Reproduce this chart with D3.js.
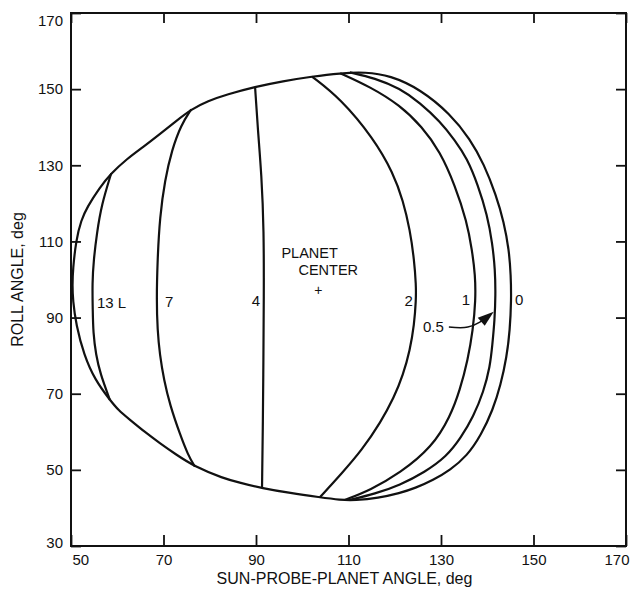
<!DOCTYPE html>
<html>
<head>
  <meta charset="utf-8">
  <title>Roll angle vs sun-probe-planet angle</title>
  <script src="https://d3js.org/d3.v7.min.js"></script>
  <style>
    body { margin: 0; background: #fff; }
    text { font-family: "Liberation Sans", Arial, sans-serif; fill: #111; }
  </style>
</head>
<body>
  <svg id="chart"></svg>

  <script>
    // tick values
    const xTicks = [50, 70, 90, 110, 130, 150, 170];
    const yTicks = [30, 50, 70, 90, 110, 130, 150, 170];

    // outer boundary (curve "0" on the right side): [sun-probe-planet angle, roll angle]
    const outline = [
      [58.4, 68.4], [55.2, 73.6], [52.8, 80.2], [51.1, 88.1], [50.4, 94.6], [50.3, 98.6],
      [50.4, 102.5], [51.1, 110.4], [52.2, 115.6], [53.5, 119.0], [56.1, 124.0], [58.7, 127.9],
      [62.1, 131.7], [65.6, 134.8], [69.2, 138.2], [72.7, 141.6], [76.0, 144.7], [79.6, 146.9],
      [83.7, 148.6], [89.8, 150.6], [95.8, 152.1], [102.1, 153.3], [108.2, 154.2], [113.6, 154.5],
      [119.0, 153.6], [125.5, 150.0], [132.0, 143.5], [136.3, 136.9], [139.3, 130.3], [141.9, 122.2],
      [143.6, 115.1], [144.7, 107.8], [145.1, 101.2], [145.2, 94.6], [144.9, 86.7], [144.2, 79.6],
      [142.9, 72.3], [141.2, 65.7], [138.7, 59.2], [135.6, 53.6], [132.0, 50.0], [128.3, 47.3],
      [124.4, 45.2], [121.1, 43.9], [116.4, 42.6], [111.4, 42.0], [108.2, 42.1], [103.8, 42.8],
      [97.4, 43.9], [91.3, 45.2], [86.5, 46.6], [82.9, 47.8], [76.8, 50.8], [72.5, 54.2],
      [69.2, 57.0], [66.0, 59.9], [62.8, 63.1], [60.2, 65.7]
    ];

    // contours inside the boundary
    const line13L = [[58.7, 127.9], [56.6, 119.6], [55.6, 112.2], [54.9, 105.1], [54.6, 99.1], [54.7, 92.0], [54.8, 86.0], [55.4, 80.2], [56.3, 75.4], [58.4, 68.4]];
    const line7 = [[76.0, 144.7], [73.8, 140.6], [71.8, 134.0], [70.3, 126.1], [69.2, 116.4], [68.7, 105.1], [68.5, 94.6], [68.7, 86.7], [69.2, 80.2], [70.1, 73.6], [71.4, 67.0], [73.6, 59.2], [75.3, 53.9], [76.8, 50.8]];
    const line4 = [[89.8, 150.6], [90.4, 139.3], [91.2, 127.5], [91.7, 113.0], [91.7, 95.4], [91.6, 78.9], [91.5, 63.1], [91.3, 45.2]];
    const line2 = [[102.1, 153.3], [108.2, 147.6], [115.4, 137.1], [119.7, 127.9], [121.8, 120.7], [123.3, 113.0], [124.2, 105.1], [124.6, 98.6], [124.6, 94.6], [124.2, 88.1], [123.3, 81.5], [121.8, 74.9], [119.8, 68.9], [117.0, 62.6], [112.9, 55.2], [108.4, 48.9], [103.8, 42.8]];
    const line1 = [[108.2, 154.2], [114.7, 150.6], [121.1, 145.8], [125.9, 140.1], [129.8, 133.6], [133.0, 124.8], [135.6, 115.2], [136.7, 107.8], [137.4, 101.2], [137.5, 94.6], [136.9, 86.7], [135.8, 78.9], [134.1, 71.0], [132.0, 64.0], [128.1, 56.0], [121.1, 49.1], [114.7, 44.7], [109.2, 42.1]];
    const line05 = [[110.3, 154.4], [115.7, 152.9], [121.1, 150.2], [125.5, 146.4], [129.8, 141.5], [133.0, 136.6], [135.6, 131.9], [138.0, 124.8], [140.0, 116.9], [141.1, 109.6], [141.7, 102.5], [141.8, 95.9], [141.6, 89.4], [141.1, 82.8], [140.6, 77.1], [139.2, 70.5], [137.0, 64.0], [134.3, 58.4], [131.2, 53.5], [126.5, 49.4], [121.1, 46.0], [115.7, 43.7], [110.3, 42.1]];

    // curve labels: [text, x, y, anchor]
    const curveLabels = [
      ["13 L", 55.6, 92.5, "start"],
      ["7", 70.3, 92.9, "start"],
      ["4", 90.9, 93.0, "end"],
      ["2", 123.9, 93.0, "end"],
      ["1", 135.4, 93.2, "middle"],
      ["0", 146.0, 93.2, "start"],
      ["0.5", 126.1, 86.2, "start"]
    ];
    const planetCenter = [103.5, 97.2];
    const arrowPath = [[131.7, 87.5], [135.8, 87.5], [138.4, 88.8], [141.4, 91.5]];

    const width = 631, height = 590;
    const mLeft = 71, mRight = 626, mTop = 13, mBottom = 546;

    const svg = d3.select("#chart")
      .attr("width", width)
      .attr("height", height);

    const x = d3.scaleLinear().domain([50, 170]).range([mLeft, mRight]);
    const y = d3.scaleLinear().domain([30, 170]).range([mBottom, mTop]);

    // axes with inward ticks
    const xAxis = svg.append("g")
      .attr("transform", `translate(0,${mBottom})`)
      .call(d3.axisBottom(x).tickValues(xTicks).tickSizeInner(-11).tickSizeOuter(0).tickPadding(8));
    svg.append("g")
      .attr("transform", `translate(0,${mTop})`)
      .call(d3.axisTop(x).tickValues(xTicks).tickSizeInner(-10).tickSizeOuter(0).tickFormat(""));
    const yAxis = svg.append("g")
      .attr("transform", `translate(${mLeft},0)`)
      .call(d3.axisLeft(y).tickValues(yTicks).tickSizeInner(-10).tickSizeOuter(0).tickPadding(8));
    svg.append("g")
      .attr("transform", `translate(${mRight},0)`)
      .call(d3.axisRight(y).tickValues(yTicks).tickSizeInner(-10).tickSizeOuter(0).tickFormat(""));

    svg.selectAll(".tick line").attr("stroke", "#111").attr("stroke-width", 1.8);
    svg.selectAll(".domain").remove();
    svg.selectAll(".tick text")
      .style("font-family", "'Liberation Sans', Arial, sans-serif")
      .style("font-size", "15px")
      .attr("fill", "#111");

    // end labels sit inside the frame edges
    xAxis.selectAll(".tick text")
      .attr("text-anchor", d => d === 50 ? "start" : d === 170 ? "end" : "middle")
      .attr("dx", d => d === 50 ? 1 : d === 170 ? 3 : 0);
    yAxis.selectAll(".tick text")
      .attr("dy", d => d === 170 ? "0.85em" : d === 30 ? "0.1em" : "0.32em");

    // frame
    svg.append("rect")
      .attr("x", mLeft).attr("y", mTop)
      .attr("width", mRight - mLeft).attr("height", mBottom - mTop)
      .attr("fill", "none").attr("stroke", "#111").attr("stroke-width", 2);

    // curves
    const closed = d3.line().x(d => x(d[0])).y(d => y(d[1])).curve(d3.curveBasisClosed);
    const open = d3.line().x(d => x(d[0])).y(d => y(d[1])).curve(d3.curveBasis);

    svg.append("path")
      .attr("d", closed(outline))
      .attr("fill", "none").attr("stroke", "#111").attr("stroke-width", 2.2);

    svg.selectAll(".contour")
      .data([line13L, line7, line4, line2, line1, line05])
      .enter()
      .append("path")
      .attr("class", "contour")
      .attr("d", d => open(d))
      .attr("fill", "none").attr("stroke", "#111").attr("stroke-width", 2.2);

    // labels
    svg.selectAll(".clabel")
      .data(curveLabels)
      .enter()
      .append("text")
      .attr("class", "clabel")
      .attr("x", d => x(d[1]))
      .attr("y", d => y(d[2]))
      .attr("text-anchor", d => d[3])
      .style("font-size", "15px")
      .text(d => d[0]);

    // 0.5 leader with arrowhead
    const tip = arrowPath[arrowPath.length - 1];
    const leader = d3.line().x(d => x(d[0])).y(d => y(d[1])).curve(d3.curveCatmullRom);
    svg.append("path")
      .attr("d", leader(arrowPath.slice(0, -1).concat([[tip[0] - 1.5, tip[1] - 1.2]])))
      .attr("fill", "none").attr("stroke", "#111").attr("stroke-width", 1.5);
    const tx = x(tip[0]), ty = y(tip[1]);
    svg.append("path")
      .attr("d", `M${tx},${ty} L${tx - 16},${ty + 6} L${tx - 9},${ty + 14} Z`)
      .attr("fill", "#111");

    // planet centre
    const cx = x(planetCenter[0]), cy = y(planetCenter[1]);
    svg.append("text").attr("x", cx - 37).attr("y", cy - 32)
      .style("font-size", "14.5px").text("PLANET");
    svg.append("text").attr("x", cx - 20).attr("y", cy - 15)
      .style("font-size", "14.5px").text("CENTER");
    svg.append("text").attr("x", cx).attr("y", cy + 5)
      .attr("text-anchor", "middle")
      .style("font-size", "14px").text("+");

    // axis titles
    svg.append("text")
      .attr("x", (mLeft + mRight) / 2 - 4)
      .attr("y", 584)
      .attr("text-anchor", "middle")
      .style("font-size", "16px")
      .text("SUN-PROBE-PLANET ANGLE, deg");
    svg.append("text")
      .attr("transform", `translate(23,${(mTop + mBottom) / 2}) rotate(-90)`)
      .attr("text-anchor", "middle")
      .style("font-size", "16px")
      .text("ROLL ANGLE, deg");
  </script>
</body>
</html>
